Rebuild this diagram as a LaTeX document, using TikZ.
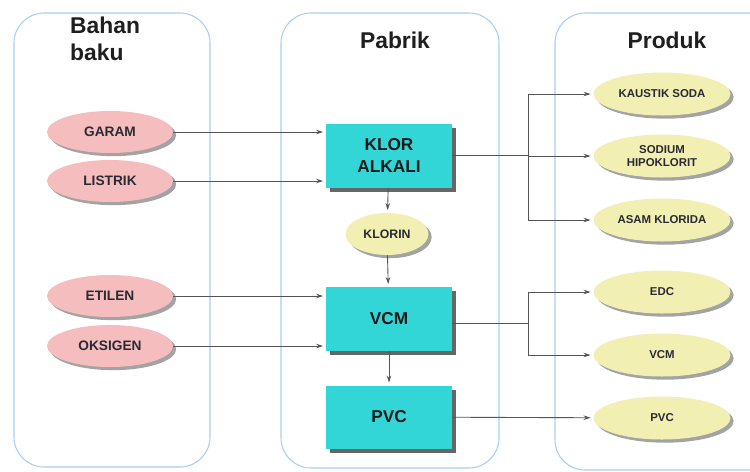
\documentclass[tikz,border=0pt]{standalone}
\usepackage{fontspec}
\setmainfont{Liberation Sans}
\usetikzlibrary{shapes.geometric,shadows,arrows.meta}

\definecolor{panelblue}{HTML}{A9CCF0}
\definecolor{pinkfill}{HTML}{F5BDBD}
\definecolor{unitcyan}{HTML}{33D6D6}
\definecolor{yellowfill}{HTML}{F2EFB2}
\definecolor{flowgray}{HTML}{555555}
\definecolor{labeldark}{HTML}{2A2A35}

\begin{document}
\begin{tikzpicture}[x=0.02cm,y=-0.02cm,
  panel/.style={draw=panelblue, rounded corners=0.6cm, line width=0.6pt},
  title/.style={font=\bfseries\fontsize{13}{15.3}\selectfont, text=black!88},
  bahan/.style={ellipse, fill=pinkfill, minimum width=2.52cm, minimum height=0.84cm, inner sep=0pt,
    drop shadow={shadow xshift=1.8pt, shadow yshift=-1.8pt, fill=gray!80, opacity=0.9},
    font=\bfseries\fontsize{7.8}{9}\selectfont, text=labeldark},
  produk/.style={ellipse, fill=yellowfill, minimum width=2.74cm, minimum height=0.86cm, inner sep=0pt, align=center,
    drop shadow={shadow xshift=1.8pt, shadow yshift=-1.8pt, fill=gray!80, opacity=0.9},
    font=\bfseries\fontsize{6.5}{7.5}\selectfont, text=labeldark},
  unit/.style={rectangle, fill=unitcyan, minimum width=2.52cm, minimum height=1.28cm, align=center,
    drop shadow={shadow xshift=2.5pt, shadow yshift=-2.5pt, fill=black!60, opacity=1},
    font=\bfseries\fontsize{9.8}{12.3}\selectfont, text=black!90},
  flow/.style={draw=flowgray, line width=0.5pt, -{Stealth[length=4pt,width=2.6pt]}, shorten >=1.5pt},
  link/.style={draw=flowgray, line width=0.5pt}
]

\useasboundingbox (0,0) rectangle (750,471);

% Panels
\draw[panel] (14,13) rectangle (210,467);
\draw[panel] (281,13) rectangle (499,468);
\draw[panel] (555,13) rectangle (790,470);

\node[title, anchor=north west, align=left] (tbahan) at (64,11) {Bahan\\baku};
\node[title] (tpabrik) at (395,40) {Pabrik};
\node[title] (tproduk) at (667,40) {Produk};

% Bahan baku
\node[bahan] (garam) at (110,132) {GARAM};
\node[bahan] (listrik) at (110,181) {LISTRIK};
\node[bahan] (etilen) at (110,296) {ETILEN};
\node[bahan] (oksigen) at (110,346) {OKSIGEN};

% Pabrik
\node[unit] (klor) at (389,155.5) {KLOR\\ALKALI};
\node[produk, minimum width=1.66cm, minimum height=0.84cm, font=\bfseries\fontsize{7}{8}\selectfont] (klorin) at (387,234) {KLORIN};
\node[unit] (vcm) at (389,319) {VCM};
\node[unit, minimum height=1.26cm] (pvc) at (389,417) {PVC};

% Produk
\node[produk] (kaustik) at (662,94) {KAUSTIK SODA};
\node[produk] (sodium) at (662,156) {SODIUM\\HIPOKLORIT};
\node[produk] (asam) at (662,220) {ASAM KLORIDA};
\node[produk] (edc) at (662,292) {EDC};
\node[produk] (vcmp) at (662,355) {VCM};
\node[produk] (pvcp) at (662,418) {PVC};

% Arrows in
\draw[flow] (garam) -- (garam -| klor.west);
\draw[flow] (listrik) -- (listrik -| klor.west);
\draw[flow] (etilen) -- (etilen -| vcm.west);
\draw[flow] (oksigen) -- (oksigen -| vcm.west);

\draw[flow] (klor) -- (klorin);
\draw[flow] (klorin) -- (vcm);
\draw[flow] (vcm) -- (pvc);

% Arrows out
\coordinate (split1) at (528,155.5);
\draw[link] (klor.east) -- (split1);
\draw[flow] (split1) |- (kaustik);
\draw[flow] (split1) |- (sodium);
\draw[flow] (split1) |- (asam);

\coordinate (split2) at (528,323);
\draw[link] (vcm.east |- split2) -- (split2);
\draw[flow] (split2) |- (edc);
\draw[flow] (split2) |- (vcmp);

\draw[flow] (pvc) -- (pvcp);
\end{tikzpicture}
\end{document}
